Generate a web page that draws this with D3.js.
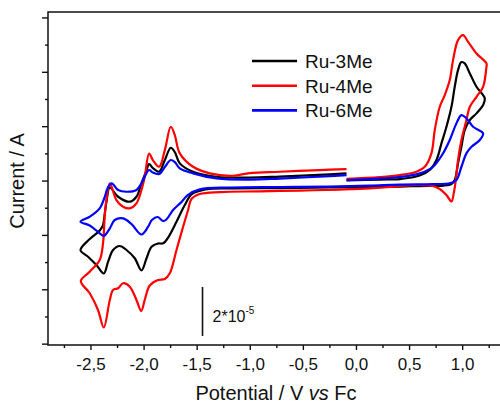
<!DOCTYPE html>
<html><head><meta charset="utf-8">
<script src="https://cdn.jsdelivr.net/npm/d3@7"></script>
<style>body{margin:0;background:#fff}svg{display:block}text{font-family:"Liberation Sans",Arial,sans-serif;fill:#111}</style>
</head><body><svg id="c" width="500" height="403"></svg>
<script>
// ---- data (potential V vs Fc, current in 1e-5 A) ----
const seriesNames = ["Ru-3Me", "Ru-4Me", "Ru-6Me"];
const seriesColors = ["#000000", "#ff0000", "#0000ff"];
const ru3Me = [[-0.089,0.007],[0.224,0.037],[0.412,0.055],[0.600,0.184],[0.695,0.386],[0.758,0.754],[0.805,1.368],[0.852,1.978],[0.899,2.713],[0.930,3.449],[0.961,4.063],[0.993,4.357],[1.024,4.309],[1.072,3.941],[1.135,3.449],[1.213,3.022],[1.197,2.776],[1.135,2.471],[1.072,2.224],[1.024,1.857],[0.993,1.243],[0.961,0.632],[0.930,0.018],[0.899,-0.129],[0.820,-0.184],[0.601,-0.202],[0.412,-0.221],[0.130,-0.239],[-0.247,-0.257],[-0.718,-0.276],[-1.188,-0.287],[-1.424,-0.331],[-1.546,-0.496],[-1.612,-0.901],[-1.690,-1.515],[-1.769,-2.096],[-1.816,-2.309],[-1.863,-2.316],[-1.925,-2.434],[-1.972,-2.860],[-2.020,-3.309],[-2.083,-2.860],[-2.161,-2.555],[-2.224,-2.408],[-2.287,-2.555],[-2.334,-2.985],[-2.375,-3.419],[-2.444,-3.107],[-2.523,-2.801],[-2.594,-2.555],[-2.507,-2.151],[-2.413,-1.838],[-2.382,-1.636],[-2.366,-1.232],[-2.347,-0.717],[-2.318,-0.257],[-2.240,-0.596],[-2.130,-0.779],[-2.067,-0.596],[-2.020,-0.103],[-1.972,0.386],[-1.948,0.607],[-1.913,0.460],[-1.854,0.324],[-1.800,0.754],[-1.744,1.206],[-1.706,1.048],[-1.659,0.632],[-1.534,0.324],[-1.314,0.140],[-1.0,0.110],[-0.718,0.147],[-0.247,0.228],[-0.089,0.265]];
const ru4Me = [[-0.089,0.06],[0.224,0.129],[0.412,0.202],[0.570,0.324],[0.648,0.507],[0.711,1.011],[0.742,1.857],[0.789,2.713],[0.836,3.143],[0.883,3.695],[0.914,4.43],[0.961,5.165],[1.008,5.349],[1.056,5.103],[1.135,4.676],[1.229,4.309],[1.227,4.136],[1.197,3.449],[1.135,3.081],[1.072,2.713],[1.040,2.224],[0.993,1.489],[0.961,0.754],[0.940,0.018],[0.921,-0.46],[0.899,-0.772],[0.852,-0.533],[0.789,-0.3125],[0.723,-0.202],[0.601,-0.165],[0.412,-0.202],[0.130,-0.287],[-0.153,-0.331],[-0.529,-0.368],[-0.906,-0.397],[-1.282,-0.423],[-1.471,-0.496],[-1.549,-0.68],[-1.581,-1.085],[-1.628,-1.699],[-1.690,-2.555],[-1.753,-3.412],[-1.800,-3.621],[-1.864,-3.658],[-1.942,-3.860],[-1.989,-4.393],[-2.022,-4.798],[-2.067,-4.393],[-2.130,-3.904],[-2.193,-3.779],[-2.240,-3.963],[-2.287,-4.026],[-2.318,-4.393],[-2.375,-5.404],[-2.429,-4.761],[-2.507,-4.147],[-2.591,-3.695],[-2.507,-3.353],[-2.413,-2.923],[-2.382,-2.309],[-2.366,-1.331],[-2.350,-0.717],[-2.318,-0.103],[-2.256,-0.717],[-2.193,-0.963],[-2.130,-1.022],[-2.067,-0.838],[-2.020,-0.349],[-1.989,0.140],[-1.948,0.993],[-1.913,0.754],[-1.854,0.507],[-1.800,1.121],[-1.744,1.978],[-1.706,1.673],[-1.659,1.0],[-1.534,0.507],[-1.377,0.265],[-1.160,0.176],[-1.0,0.276],[-0.718,0.324],[-0.341,0.386],[-0.089,0.423]];
const ru6Me = [[-0.089,0.018],[0.224,0.074],[0.412,0.129],[0.601,0.265],[0.726,0.507],[0.820,1.0],[0.883,1.489],[0.946,2.103],[0.993,2.408],[1.040,2.287],[1.103,1.978],[1.197,1.735],[1.166,1.489],[1.088,1.243],[1.040,1.0],[0.993,0.507],[0.946,0.018],[0.883,-0.103],[0.726,-0.129],[0.412,-0.147],[0.130,-0.184],[-0.247,-0.221],[-0.718,-0.239],[-1.188,-0.257],[-1.471,-0.324],[-1.584,-0.533],[-1.643,-0.790],[-1.722,-1.085],[-1.785,-1.434],[-1.816,-1.489],[-1.866,-1.342],[-1.922,-1.452],[-1.957,-1.699],[-2.020,-1.985],[-2.114,-1.599],[-2.193,-1.390],[-2.272,-1.452],[-2.318,-1.757],[-2.375,-2.040],[-2.413,-1.941],[-2.507,-1.654],[-2.594,-1.515],[-2.507,-1.331],[-2.413,-1.022],[-2.366,-0.607],[-2.338,-0.276],[-2.300,-0.103],[-2.240,-0.349],[-2.161,-0.412],[-2.067,-0.349],[-2.020,-0.103],[-1.989,0.140],[-1.948,0.386],[-1.913,0.294],[-1.854,0.239],[-1.800,0.496],[-1.744,0.754],[-1.706,0.680],[-1.659,0.449],[-1.534,0.265],[-1.314,0.081],[-1.0,0.037],[-0.718,0.074],[-0.247,0.165],[-0.089,0.202]];
const xMajorTicks = [-2.5, -2.0, -1.5, -1.0, -0.5, 0.0, 0.5, 1.0];
const xMinorTicks = [-2.75, -2.25, -1.75, -1.25, -0.75, -0.25, 0.25, 0.75, 1.25];
const yMajorTicks = [-6, -4, -2, 0, 2, 4, 6];
const yMinorTicks = [-5, -3, -1, 1, 3, 5];
const scaleBar = {potential: -1.445, from: -3.915, to: -5.717, label: "2*10", exp: "-5"};
const xTitle = ["Potential / V ", "vs", " Fc"];
const yTitle = "Current / A";

// ---- drawing ----
const svg = d3.select("#c");
const L = 48, T = 12, B = 345, R = 500.4;
const x = d3.scaleLinear().domain([-2.9, 1.36]).range([L, R]);
const y = d3.scaleLinear().domain([-6.05, 6.2]).range([B, T]);
const fmt = d => d.toFixed(1).replace(".", ",");

const data = [ru3Me, ru4Me, ru6Me];
const line = d3.line().x(d => x(d[0])).y(d => y(d[1])).curve(d3.curveCatmullRom.alpha(0.5));
svg.append("g").selectAll("path").data(data).join("path")
  .attr("d", line).attr("fill", "none")
  .attr("stroke", (d, i) => seriesColors[i]).attr("stroke-width", 2.2)
  .attr("stroke-linejoin", "round");

// axes
const gx = svg.append("g").attr("transform", `translate(0,${B})`);
gx.call(d3.axisBottom(x).tickValues(xMajorTicks).tickSize(5).tickSizeOuter(0).tickPadding(8).tickFormat(fmt));
gx.select(".domain").remove();
gx.selectAll("text").attr("font-size", 17).attr("font-family", "Liberation Sans, Arial, sans-serif").attr("fill", "#111");
const gx2 = svg.append("g").attr("transform", `translate(0,${B})`);
gx2.call(d3.axisBottom(x).tickValues(xMinorTicks).tickSize(3).tickFormat(""));
gx2.select(".domain").remove();

const gy = svg.append("g").attr("transform", `translate(${L},0)`);
gy.call(d3.axisLeft(y).tickValues(yMajorTicks).tickSize(6).tickFormat(""));
gy.select(".domain").remove();
const gy2 = svg.append("g").attr("transform", `translate(${L},0)`);
gy2.call(d3.axisLeft(y).tickValues(yMinorTicks).tickSize(3).tickFormat(""));
gy2.select(".domain").remove();
svg.selectAll(".tick line").attr("stroke", "#111").attr("stroke-width", 1.4);

// frame
svg.append("path").attr("d", `M${R},${T}H${L}V${B}H${R}`).attr("fill", "none").attr("stroke", "#111").attr("stroke-width", 1.5);

// scale bar
svg.append("line").attr("x1", x(scaleBar.potential)).attr("x2", x(scaleBar.potential))
  .attr("y1", y(scaleBar.from)).attr("y2", y(scaleBar.to)).attr("stroke", "#111").attr("stroke-width", 1.6);
const sb = svg.append("text").attr("x", x(scaleBar.potential) + 10).attr("y", 322).attr("font-size", 16);
sb.append("tspan").text(scaleBar.label);
sb.append("tspan").attr("dy", -8).attr("font-size", 10).text(scaleBar.exp);

// titles
const xt = svg.append("text").attr("x", 276).attr("y", 400).attr("text-anchor", "middle").attr("font-size", 20);
xTitle.forEach((t, i) => xt.append("tspan").attr("font-style", i === 1 ? "italic" : "normal").text(t));
svg.append("text").attr("transform", "translate(24,181) rotate(-90)").attr("text-anchor", "middle").attr("font-size", 20).text(yTitle);

// legend
const lg = svg.append("g").selectAll("g").data(seriesNames).join("g")
  .attr("transform", (d, i) => `translate(252,${61 + i * 24.7})`);
lg.append("line").attr("x1", 0).attr("x2", 45).attr("stroke", (d, i) => seriesColors[i]).attr("stroke-width", 2.6);
lg.append("text").attr("x", 53).attr("y", 7).attr("font-size", 19).text(d => d);
</script></body></html>
